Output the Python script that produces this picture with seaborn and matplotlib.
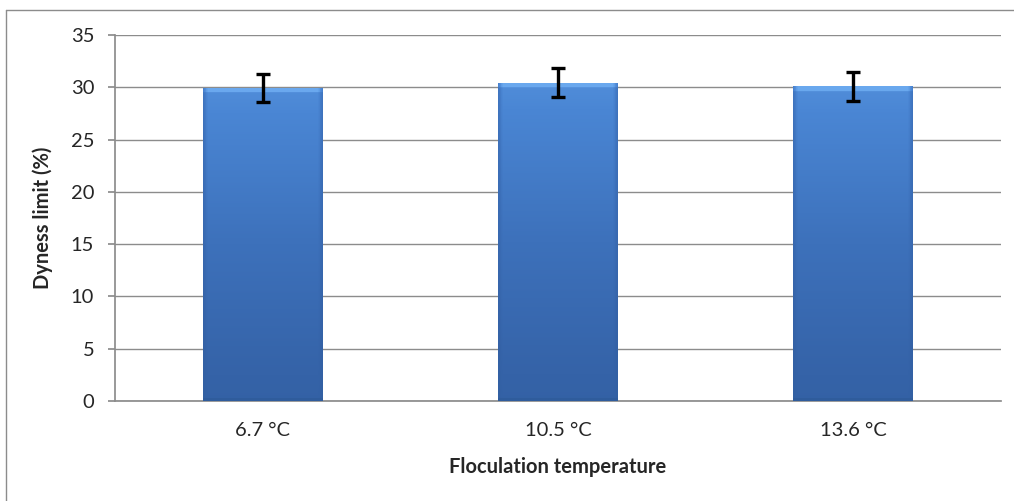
import matplotlib
matplotlib.use("Agg")
import matplotlib.pyplot as plt
import numpy as np
import pandas as pd
import seaborn as sns
from matplotlib.colors import LinearSegmentedColormap
from matplotlib.lines import Line2D

# data
temperatures = ["6.7 °C", "10.5 °C", "13.6 °C"]
dryness_limit = [29.95, 30.45, 30.1]
dryness_err = [1.35, 1.38, 1.38]
y_ticks = [0, 5, 10, 15, 20, 25, 30, 35]

df = pd.DataFrame({"temp": temperatures, "limit": dryness_limit})

sns.set_theme(style="white")
plt.rcParams["font.family"] = ["Lato", "DejaVu Sans"]

fig = plt.figure(figsize=(10.14, 5.01), dpi=100)
ax = fig.add_axes([0.1134, 0.1996, 0.8738, 0.7305])

sns.barplot(data=df, x="temp", y="limit", color="#4a7ebb", width=0.406,
            errorbar=None, ax=ax, zorder=2)
ax.errorbar(np.arange(len(temperatures)), dryness_limit, yerr=dryness_err,
            fmt="none", ecolor="black", elinewidth=2.4, capsize=5,
            capthick=2.4, zorder=5)

# Excel-like gradient fill on each bar
grad = LinearSegmentedColormap.from_list(
    "bar", ["#2f5c9c", "#3563a8", "#3d71bb", "#4a86d4", "#6aa8ee"])
ny, nx = 300, 80
yy = np.linspace(0, 1, ny)[:, None]
xx = np.linspace(-1, 1, nx)[None, :]
vert = np.where(yy > 0.985, 1.0, 0.2 + 0.6 * yy)
vert = np.where(yy < 0.01, 0.0, vert)
side = 1 - 0.3 * np.clip(np.abs(xx) - 0.93, 0, None) / 0.07
img = vert * side
for bar in ax.patches:
    x0, y0 = bar.get_x(), bar.get_y()
    w, h = bar.get_width(), bar.get_height()
    bar.set_facecolor("none")
    bar.set_edgecolor("none")
    im = ax.imshow(img, cmap=grad, vmin=0, vmax=1, origin="lower",
                   extent=[x0, x0 + w, y0, y0 + h], aspect="auto", zorder=3)
    im.set_clip_path(bar)

ax.set_xlim(-0.5, 2.5)
ax.set_ylim(0, 35)
ax.set_yticks(y_ticks)
ax.yaxis.grid(True, color="#8c8c8c", linewidth=1)
ax.set_axisbelow(True)
for s in ["top", "right"]:
    ax.spines[s].set_visible(False)
ax.spines["left"].set_color("#8c8c8c")
ax.spines["bottom"].set_color("#8c8c8c")
ax.tick_params(axis="y", left=True, length=5, color="#8c8c8c", labelsize=14.5,
               pad=10)
ax.tick_params(axis="x", bottom=False, labelsize=14.5, pad=9)

ax.set_xlabel("Floculation temperature", fontsize=14.5, fontweight="bold",
              labelpad=13)
ax.set_ylabel("Dyness limit (%)", fontsize=14.5, fontweight="bold", labelpad=13)

# outer chart border (left and top visible in the reference)
fig.add_artist(Line2D([0.006, 0.006], [0, 0.98], transform=fig.transFigure,
                      color="#8c8c8c", linewidth=1))
fig.add_artist(Line2D([0.006, 1.0], [0.98, 0.98], transform=fig.transFigure,
                      color="#8c8c8c", linewidth=1))

fig.savefig("out.png", dpi=100)
